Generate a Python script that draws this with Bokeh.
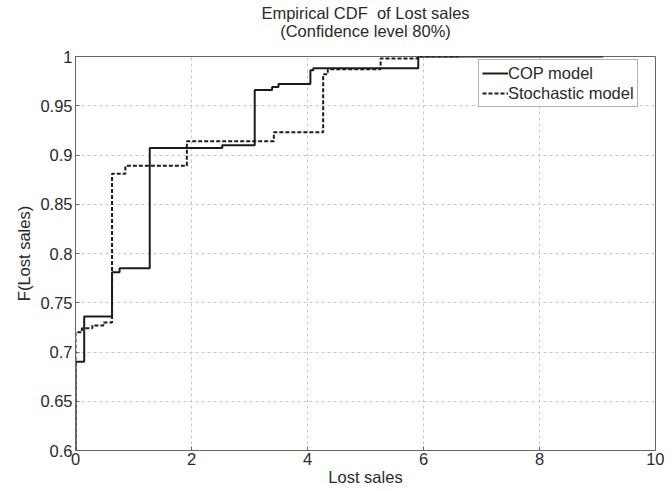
from bokeh.plotting import figure
from bokeh.models import Legend, LegendItem, FixedTicker, Title, ColumnDataSource
from bokeh.embed import file_html
from bokeh.resources import INLINE

# ---- data ----
cop_x = [0.0, 0.0, 0.15, 0.63, 0.76, 1.28, 2.53, 3.09, 3.39, 3.50, 4.05, 4.10, 5.91, 9.10]
cop_y = [0.60, 0.690, 0.736, 0.781, 0.785, 0.907, 0.910, 0.966, 0.969, 0.972, 0.986, 0.988, 1.000, 1.000]

sto_x = [0.0, 0.0, 0.11, 0.29, 0.48, 0.63, 0.86, 1.92, 3.42, 4.27, 4.35, 5.26, 5.90, 6.60]
sto_y = [0.60, 0.720, 0.724, 0.727, 0.730, 0.881, 0.889, 0.914, 0.923, 0.982, 0.987, 0.998, 1.000, 1.000]

x_ticks = [0, 2, 4, 6, 8, 10]
x_tick_labels = ["0", "2", "4", "6", "8", "10"]
y_ticks = [0.6, 0.65, 0.7, 0.75, 0.8, 0.85, 0.9, 0.95, 1.0]
y_tick_labels = ["0.6", "0.65", "0.7", "0.75", "0.8", "0.85", "0.9", "0.95", "1"]

title_line1 = "Empirical CDF\u00a0 of Lost sales"
title_line2 = "(Confidence level 80%)"
x_label = "Lost sales"
y_label = "F(Lost sales)"
series_names = ["COP model", "Stochastic model"]

FONT = "Liberation Sans"
FS = "16.5px"
TXT = "#2a2a2a"
LINE = "#1c1c1c"

p = figure(width=664, height=488, x_range=(0, 10), y_range=(0.6, 1.0),
           output_backend="svg", toolbar_location=None,
           min_border_left=75, min_border_right=9, min_border_top=56, min_border_bottom=36)
p.title = None

p.add_layout(Title(text=title_line2, align="center", text_font=FONT, text_font_size=FS,
                   text_font_style="normal", text_color=TXT, standoff=33), "above")
p.add_layout(Title(text=title_line1, align="center", text_font=FONT, text_font_size=FS,
                   text_font_style="normal", text_color=TXT, standoff=-36), "above")

src_cop = ColumnDataSource(dict(x=cop_x, y=cop_y))
src_sto = ColumnDataSource(dict(x=sto_x, y=sto_y))

r_sto = p.step("x", "y", source=src_sto, mode="after", line_color=LINE, line_width=2,
               line_dash="4 2")
r_cop = p.step("x", "y", source=src_cop, mode="after", line_color=LINE, line_width=2)

# axes
for ax in (p.xaxis[0], p.yaxis[0]):
    ax.major_tick_in = 4
    ax.major_tick_out = 0
    ax.minor_tick_in = 0
    ax.minor_tick_out = 0
    ax.axis_line_color = "#666666"
    ax.major_tick_line_color = "#666666"
    ax.major_label_text_font = FONT
    ax.major_label_text_font_size = FS
    ax.major_label_text_color = TXT
    ax.axis_label_text_font = FONT
    ax.axis_label_text_font_size = FS
    ax.axis_label_text_font_style = "normal"
    ax.axis_label_text_color = TXT

p.xaxis.ticker = FixedTicker(ticks=x_ticks)
p.xaxis.major_label_overrides = {t: l for t, l in zip(x_ticks, x_tick_labels)}
p.yaxis.ticker = FixedTicker(ticks=y_ticks)
p.yaxis.major_label_overrides = {t: l for t, l in zip(y_ticks, y_tick_labels)}
p.xaxis.axis_label = x_label
p.yaxis.axis_label = y_label
p.xaxis.major_label_standoff = 2
p.yaxis.major_label_standoff = 3
p.xaxis.axis_label_standoff = 0
p.yaxis.axis_label_standoff = 4

p.outline_line_color = "#666666"
p.outline_line_width = 1

p.xgrid.grid_line_color = "#c8c8c8"
p.ygrid.grid_line_color = "#c8c8c8"
p.xgrid.grid_line_dash = "3 3"
p.ygrid.grid_line_dash = "3 3"

legend = Legend(items=[LegendItem(label=series_names[0], renderers=[r_cop]),
                       LegendItem(label=series_names[1], renderers=[r_sto])],
                location=(403, 343), margin=0, padding=3, spacing=0,
                label_standoff=0, glyph_width=26, glyph_height=20, label_height=20,
                label_text_font=FONT, label_text_font_size=FS, label_text_color=TXT,
                border_line_color="#666666", border_line_width=1,
                background_fill_color="white", background_fill_alpha=1)
p.add_layout(legend)

open("out.html", "w").write(file_html(p, INLINE))
